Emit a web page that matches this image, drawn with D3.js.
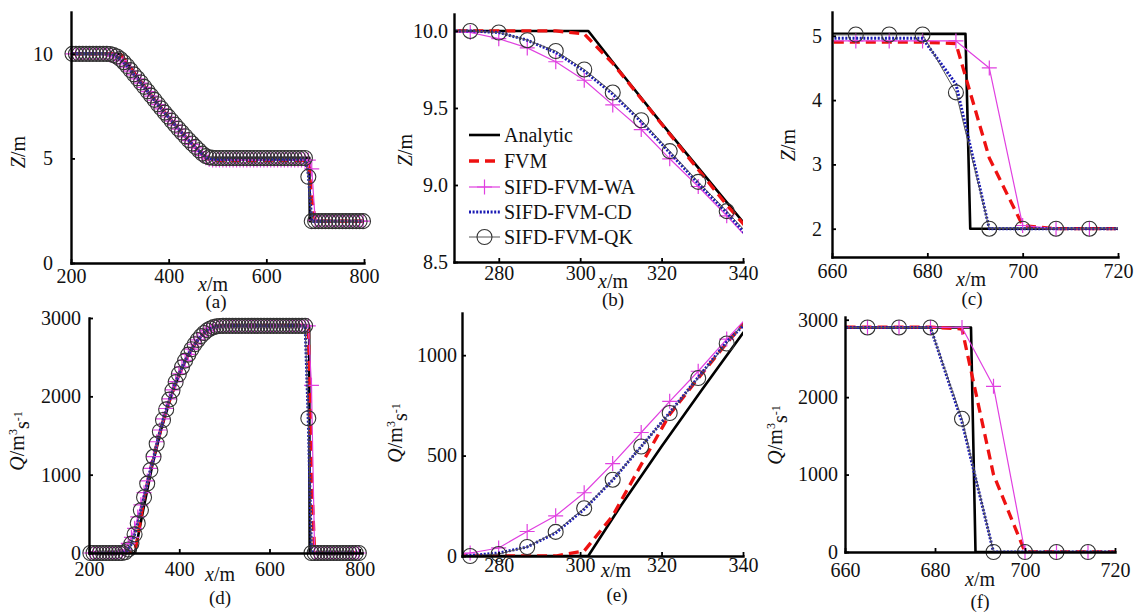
<!DOCTYPE html>
<html>
<head>
<meta charset="utf-8">
<script src="https://cdn.jsdelivr.net/npm/d3@7"></script>
<style>
body { margin: 0; background: #fff; }
svg text { font-family: "Liberation Serif", "Times New Roman", serif; fill: #111; }
</style>
</head>
<body>
<svg id="chart" width="1138" height="615"></svg>
<script>
// computational grid (m), shared by the four numerical schemes
var gridX = [203,210,217,224,231,238,245,252,259,266,273,280,287,294,301,308,315,322,329,336,
  343,350,357,364,371,378,385,392,399,406,413,420,427,434,441,448,455,462,469,476,
  483,490,497,504,511,518,525,532,539,546,553,560,567,574,581,588,595,602,609,616,
  623,630,637,644,651,658,665,672,679,686,693,700,707,714,721,728,735,742,749,756,
  763,770,777,784,791,798];

// analytic solution (breakpoints)
var anaX = [200,302,310,320,330,340,360,380,400,420,440,460,476,688,689,800];
var anaZ = [10,10,9.73,9.40,9.08,8.76,8.14,7.55,6.97,6.42,5.89,5.39,5.03,5.03,2,2];
var anaQ = [0,0,250,545,830,1110,1577,1965,2279,2528,2711,2840,2900,2900,0,0];

// water level Z (m)
var fvmZ = [10,10,10,10,10,10,10,10,10,10, 10,10,10,10,9.98,9.79,9.56,9.33,9.10,8.87,
  8.66,8.45,8.23,8.02,7.81,7.60,7.40,7.20,7.00,6.80, 6.61,6.42,6.23,6.05,5.87,5.69,5.52,5.35,5.18,5.03,
  4.94,4.91,4.90,4.90,4.90,4.90,4.90,4.90,4.90,4.90, 4.90,4.90,4.90,4.90,4.90,4.90,4.90,4.90,4.90,4.90,
  4.90,4.90,4.90,4.90,4.90,4.90,4.90,4.90,4.90,4.88, 3.10,2.05,2,2,2,2,2,2,2,2, 2,2,2,2,2,2];
var waZ = [10,10,10,10,10,10,10,10,10,10, 9.99,9.95,9.89,9.80,9.68,9.52,9.36,9.17,8.99,8.80,
  8.60,8.40,8.19,7.98,7.78,7.57,7.37,7.17,6.98,6.78, 6.59,6.40,6.21,6.03,5.85,5.67,5.50,5.32,5.15,5.03,
  4.96,4.93,4.92,4.92,4.92,4.92,4.92,4.92,4.92,4.92, 4.92,4.92,4.92,4.92,4.92,4.92,4.92,4.92,4.92,4.92,
  4.92,4.92,4.92,4.92,4.92,4.92,4.92,4.92,4.92,4.92, 4.50,2.05,2,2,2,2,2,2,2,2, 2,2,2,2,2,2];
var cdZ = [10,10,10,10,10,10,10,10,10,10, 10,9.99,9.94,9.86,9.74,9.59,9.41,9.21,9.01,8.82,
  8.61,8.41,8.20,7.99,7.79,7.58,7.38,7.18,6.99,6.79, 6.60,6.41,6.23,6.05,5.87,5.70,5.54,5.37,5.20,5.07,
  5.00,4.97,4.96,4.96,4.96,4.96,4.96,4.96,4.96,4.96, 4.96,4.96,4.96,4.96,4.96,4.96,4.96,4.96,4.96,4.96,
  4.96,4.96,4.96,4.96,4.96,4.96,4.96,4.96,4.96,4.25, 2,2,2,2,2,2,2,2,2,2, 2,2,2,2,2,2];
var qkZ = [10,10,10,10,10,10,10,10,10,10, 10,9.99,9.94,9.87,9.75,9.60,9.42,9.22,9.02,8.83,
  8.63,8.42,8.21,8.00,7.80,7.59,7.39,7.19,7.00,6.80, 6.61,6.42,6.24,6.06,5.88,5.71,5.55,5.39,5.23,5.11,
  5.05,5.03,5.02,5.02,5.02,5.02,5.02,5.02,5.02,5.02, 5.02,5.02,5.02,5.02,5.02,5.02,5.02,5.02,5.02,5.02,
  5.02,5.02,5.02,5.02,5.02,5.02,5.02,5.02,5.02,4.12, 2,2,2,2,2,2,2,2,2,2, 2,2,2,2,2,2];

// discharge Q (m3/s)
var fvmQ = [0,0,0,0,0,0,0,0,0,0, 0,0,0,0,25,200,455,705,885,1060,
  1225,1380,1535,1680,1815,1942,2060,2170,2272,2364, 2449,2526,2596,2659,2715,2764,2805,2838,2863,2880,
  2891,2897,2905,2905,2905,2905,2905,2905,2905,2905, 2905,2905,2905,2905,2905,2905,2905,2905,2905,2905,
  2905,2905,2905,2905,2905,2905,2905,2905,2905,2880, 1000,0,0,0,0,0,0,0,0,0, 0,0,0,0,0,0];
var waQ = [0,0,0,0,0,0,0,0,0,0, 15,40,122,200,315,460,615,770,920,1080,
  1230,1420,1570,1712,1845,1968,2082,2189,2288,2377, 2460,2535,2603,2665,2720,2767,2807,2840,2864,2881,
  2891,2897,2900,2900,2900,2900,2900,2900,2900,2900, 2900,2900,2900,2900,2900,2900,2900,2900,2900,2900,
  2900,2900,2900,2900,2900,2900,2900,2900,2900,2900, 2140,0,0,0,0,0,0,0,0,0, 0,0,0,0,0,0];
var cdQ = [0,0,0,0,0,0,0,0,0,0, 2,15,45,115,233,378,545,714,890,1066,
  1205,1390,1548,1695,1831,1956,2071,2180,2280,2371, 2455,2531,2600,2663,2719,2767,2808,2841,2865,2882,
  2892,2897,2900,2900,2900,2900,2900,2900,2900,2900, 2900,2900,2900,2900,2900,2900,2900,2900,2900,2900,
  2900,2900,2900,2900,2900,2900,2900,2900,2900,1680, 0,0,0,0,0,0,0,0,0,0, 0,0,0,0,0,0];
var qkQ = [0,0,0,0,0,0,0,0,0,0, 0,10,45,120,238,380,545,712,886,1058,
  1228,1395,1552,1698,1833,1958,2073,2182,2282,2372, 2456,2532,2601,2664,2720,2768,2809,2842,2866,2883,
  2893,2898,2900,2900,2900,2900,2900,2900,2900,2900, 2900,2900,2900,2900,2900,2900,2900,2900,2900,2900,
  2900,2900,2900,2900,2900,2900,2900,2900,2900,1720, 0,0,0,0,0,0,0,0,0,0, 0,0,0,0,0,0];

var seriesNames = ["Analytic", "FVM", "SIFD-FVM-WA", "SIFD-FVM-CD", "SIFD-FVM-QK"];

var ticksXFull = [200, 400, 600, 800];
var ticksXHead = [280, 300, 320, 340];
var ticksXShock = [660, 680, 700, 720];
var ticksZFull = [0, 5, 10];
var ticksZHead = [8.5, 9.0, 9.5, 10.0];
var ticksZShock = [2, 3, 4, 5];
var ticksQFull = [0, 1000, 2000, 3000];
var ticksQHead = [0, 500, 1000];

var styles = [
  { stroke: "#000", width: 2.6, dash: null, marker: null },
  { stroke: "#ee1111", width: 3.3, dash: "10,6", marker: null },
  { stroke: "#e040e0", width: 1.2, dash: null, marker: "plus" },
  { stroke: "#1a1ab4", width: 3, dash: "2,1.6", marker: null },
  { stroke: "#555", width: 1, dash: null, marker: "circle" }
];

var svg = d3.select("#chart");

function pairs(xs, ys) {
  return xs.map(function (v, i) { return [v, ys[i]]; });
}

function seriesFor(qty) {
  if (qty === "Z") {
    return [pairs(anaX, anaZ), pairs(gridX, fvmZ), pairs(gridX, waZ), pairs(gridX, cdZ), pairs(gridX, qkZ)];
  }
  return [pairs(anaX, anaQ), pairs(gridX, fvmQ), pairs(gridX, waQ), pairs(gridX, cdQ), pairs(gridX, qkQ)];
}

function drawMarker(sel, kind, color) {
  if (kind === "plus") {
    sel.append("path").attr("d", "M-7.5,0H7.5M0,-7.5V7.5")
      .attr("stroke", color).attr("stroke-width", 1.2).attr("fill", "none");
  } else if (kind === "circle") {
    sel.append("circle").attr("r", 7.5)
      .attr("stroke", "#333").attr("stroke-width", 1.1).attr("fill", "none");
  }
}

var panels = [
  { tag: "a", qty: "Z", xd: [200, 800], yd: [0, 12], l: 71, r: 364, t: 12, b: 263,
    xt: ticksXFull, yt: ticksZFull, yf: "d", ypad: 18, xpad: 6,
    ylab: [18, 152], xlab: [213, 284], tlab: [216, 301] },
  { tag: "b", qty: "Z", xd: [269, 340], yd: [8.5, 10.11], l: 454, r: 743, t: 14, b: 262,
    xt: ticksXHead, yt: ticksZHead, yf: ".1f", ypad: 6, xpad: 4,
    ylab: [405, 150], xlab: [613, 281], tlab: [613, 299], legend: true },
  { tag: "c", qty: "Z", xd: [660, 720], yd: [1.56, 5.37], l: 832, r: 1118, t: 12, b: 257,
    xt: ticksXShock, yt: ticksZShock, yf: "d", ypad: 10, xpad: 7,
    ylab: [788, 145], xlab: [971, 279], tlab: [972, 298] },
  { tag: "d", qty: "Q", xd: [200, 805], yd: [0, 3000], l: 89, r: 362, t: 318, b: 553,
    xt: ticksXFull, yt: ticksQFull, yf: "d", ypad: 8, xpad: 9,
    ylab: [17, 441], xlab: [220, 574], tlab: [220, 597] },
  { tag: "e", qty: "Q", xd: [271, 340], yd: [0, 1210], l: 462, r: 743, t: 313, b: 556,
    xt: ticksXHead, yt: ticksQHead, yf: "d", ypad: 5, xpad: 2,
    ylab: [395, 433], xlab: [616, 570], tlab: [617, 594] },
  { tag: "f", qty: "Q", xd: [660, 720], yd: [0, 3035], l: 845, r: 1115, t: 317, b: 552,
    xt: ticksXShock, yt: ticksQFull, yf: "d", ypad: 7, xpad: 11,
    ylab: [775, 435], xlab: [980, 579], tlab: [980, 601] }
];

function drawPanel(p) {
  var x = d3.scaleLinear().domain(p.xd).range([p.l, p.r]);
  var y = d3.scaleLinear().domain(p.yd).range([p.b, p.t]);
  var g = svg.append("g").attr("class", "panel-" + p.tag);

  svg.append("clipPath").attr("id", "clip-" + p.tag)
    .append("rect").attr("x", p.l).attr("y", p.t - 2)
    .attr("width", p.r - p.l).attr("height", p.b - p.t + 2);

  var line = d3.line().x(function (d) { return x(d[0]); }).y(function (d) { return y(d[1]); });
  var data = seriesFor(p.qty);

  data.forEach(function (pts, i) {
    var st = styles[i];
    g.append("path").datum(pts)
      .attr("clip-path", "url(#clip-" + p.tag + ")")
      .attr("d", line)
      .attr("fill", "none")
      .attr("stroke", st.stroke)
      .attr("stroke-width", st.width)
      .attr("stroke-dasharray", st.dash)
      .attr("stroke-linejoin", "round");
    if (st.marker) {
      var inside = pts.filter(function (d) {
        return d[0] >= p.xd[0] - 0.5 && d[0] <= p.xd[1] + 0.5 &&
               d[1] >= p.yd[0] - 0.01 && d[1] <= p.yd[1];
      });
      g.append("g").selectAll("g").data(inside).enter().append("g")
        .attr("transform", function (d) { return "translate(" + x(d[0]) + "," + y(d[1]) + ")"; })
        .each(function () { drawMarker(d3.select(this), st.marker, st.stroke); });
    }
  });

  var xAxis = d3.axisBottom(x).tickValues(p.xt).tickSizeInner(-4).tickSizeOuter(0)
    .tickPadding(p.xpad).tickFormat(d3.format("d"));
  var yAxis = d3.axisLeft(y).tickValues(p.yt).tickSizeInner(-4).tickSizeOuter(0)
    .tickPadding(p.ypad).tickFormat(d3.format(p.yf));

  [g.append("g").attr("transform", "translate(0," + p.b + ")").call(xAxis),
   g.append("g").attr("transform", "translate(" + p.l + ",0)").call(yAxis)].forEach(function (a) {
    a.attr("font-size", 20).attr("font-family", null);
    a.select(".domain").attr("stroke", "#000").attr("stroke-width", 2.4).attr("stroke-linecap", "square");
    a.selectAll(".tick line").attr("stroke", "#000").attr("stroke-width", 1.8);
    a.selectAll(".tick text").attr("fill", "#111");
  });

  // axis labels
  var xl = g.append("text").attr("x", p.xlab[0]).attr("y", p.xlab[1]).attr("dy", "0.35em")
    .attr("text-anchor", "middle").attr("font-size", 20);
  xl.append("tspan").attr("font-style", "italic").text("x");
  xl.append("tspan").text("/m");

  g.append("text").attr("x", p.tlab[0]).attr("y", p.tlab[1]).attr("dy", "0.35em")
    .attr("text-anchor", "middle").attr("font-size", 19).text("(" + p.tag + ")");

  var yl = g.append("text")
    .attr("transform", "translate(" + p.ylab[0] + "," + p.ylab[1] + ") rotate(-90)")
    .attr("dy", "0.35em").attr("text-anchor", "middle").attr("font-size", 20);
  if (p.qty === "Z") {
    yl.append("tspan").attr("font-style", "italic").text("Z");
    yl.append("tspan").text("/m");
  } else {
    yl.append("tspan").attr("font-style", "italic").text("Q");
    yl.append("tspan").text("/m");
    yl.append("tspan").attr("font-size", 12).attr("dy", "-0.6em").text("3");
    yl.append("tspan").attr("dy", "0.6em").text("s");
    yl.append("tspan").attr("font-size", 12).attr("dy", "-0.6em").text("-1");
  }

  if (p.legend) drawLegend(g);
}

function drawLegend(g) {
  var lx0 = 469, lx1 = 500, tx = 504;
  var rows = [135, 161, 187, 212, 237];
  seriesNames.forEach(function (name, i) {
    var st = styles[i];
    var row = g.append("g").attr("transform", "translate(0," + rows[i] + ")");
    row.append("line").attr("x1", lx0).attr("x2", lx1).attr("y1", 0).attr("y2", 0)
      .attr("stroke", st.stroke).attr("stroke-width", st.width).attr("stroke-dasharray", st.dash);
    if (st.marker) {
      drawMarker(row.append("g").attr("transform", "translate(" + ((lx0 + lx1) / 2) + ",0)"), st.marker, st.stroke);
    }
    row.append("text").attr("x", tx).attr("y", 0).attr("dy", "0.35em")
      .attr("font-size", 20).text(name);
  });
}

panels.forEach(drawPanel);
</script>
</body>
</html>
